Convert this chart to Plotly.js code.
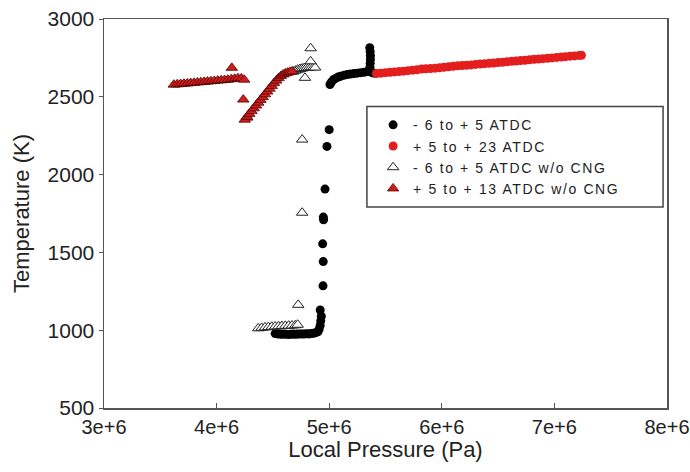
<!DOCTYPE html>
<html>
<head>
<meta charset="utf-8">
<script src="https://cdn.plot.ly/plotly-3.0.1.min.js"></script>
<style>html,body{margin:0;padding:0;background:#fff;}#chart{width:690px;height:472px;}
.legendtext{letter-spacing:1.6px;}</style>
</head>
<body>
<div id="chart"></div>
<script>
// Series names (legend)
const seriesNames = ["- 6 to + 5 ATDC", "+ 5 to + 23 ATDC", "- 6 to + 5 ATDC w/o CNG", "+ 5 to + 13 ATDC w/o CNG"];

// Black circles: -6 to +5 ATDC (pressure Pa, temperature K)
const blackP = [4.52e6,4.54e6,4.56e6,4.58e6,4.60e6,4.62e6,4.64e6,4.66e6,4.68e6,4.70e6,4.72e6,4.74e6,4.76e6,4.78e6,4.80e6,4.82e6,4.84e6,4.86e6,4.88e6,4.90e6,4.91e6,4.92e6,4.925e6,4.93e6,4.92e6,
  4.945e6,4.947e6,4.942e6,4.95e6,4.948e6,4.963e6,4.98e6,5.00e6,
  5.007e6,5.02e6,5.04e6,5.06e6,5.08e6,5.10e6,5.13e6,5.16e6,5.19e6,5.22e6,5.25e6,5.28e6,5.31e6,5.34e6,
  5.36e6,5.362e6,5.364e6,5.366e6,5.366e6,5.364e6,5.36e6,5.38e6,5.40e6];
const blackT = [978,976,975,974,975,974,973,974,975,974,975,976,975,976,977,976,978,980,984,990,1005,1030,1060,1090,1130,
  1285,1441,1555,1710,1727,1907,2181,2289,
  2579,2595,2611,2620,2627,2632,2638,2643,2646,2649,2652,2655,2658,2662,
  2665,2690,2715,2740,2765,2790,2815,2655,2652];

// Red circles: +5 to +23 ATDC
const redP = [5.42e6,5.46e6,5.50e6,5.54e6,5.58e6,5.62e6,5.66e6,5.70e6,5.74e6,5.78e6,5.82e6,5.86e6,5.90e6,5.94e6,5.98e6,
  6.02e6,6.06e6,6.10e6,6.14e6,6.18e6,6.22e6,6.26e6,6.30e6,6.34e6,6.38e6,6.42e6,6.46e6,6.50e6,6.54e6,6.58e6,
  6.62e6,6.66e6,6.70e6,6.74e6,6.78e6,6.82e6,6.86e6,6.90e6,6.94e6,6.98e6,7.02e6,7.06e6,7.10e6,7.14e6,7.18e6,7.22e6,7.24e6];
const redT = [2650,2652,2655,2657,2660,2662,2665,2668,2671,2674,2678,2680,2682,2684,2687,
  2690,2693,2696,2699,2701,2703,2705,2708,2711,2713,2715,2717,2720,2722,2725,
  2728,2730,2733,2735,2738,2741,2743,2745,2748,2750,2753,2756,2758,2761,2763,2766,2767];

// Open triangles: -6 to +5 ATDC w/o CNG
const openP = [4.37e6,4.40e6,4.43e6,4.46e6,4.49e6,4.52e6,4.55e6,4.58e6,4.61e6,4.64e6,4.67e6,4.70e6,4.72e6,
  4.725e6,4.76e6,4.76e6,
  4.785e6,4.68e6,4.70e6,4.72e6,4.74e6,4.76e6,4.78e6,4.80e6,4.82e6,4.84e6,4.86e6,4.875e6,4.835e6,4.835e6];
const openT = [1012,1015,1018,1020,1022,1024,1025,1027,1028,1029,1030,1032,1035,
  1163,1755,2225,
  2622,2662,2668,2674,2678,2682,2685,2687,2688,2690,2690,2688,2728,2812];

// Red triangles: +5 to +13 ATDC w/o CNG
const redTriP = [3.62e6,3.65e6,3.68e6,3.71e6,3.74e6,3.77e6,3.80e6,3.83e6,3.86e6,3.89e6,3.92e6,3.95e6,3.98e6,4.01e6,4.04e6,4.07e6,4.10e6,4.13e6,4.16e6,4.19e6,4.22e6,4.245e6,
  4.135e6,4.237e6,4.27e6,
  4.25e6,4.27e6,4.29e6,4.31e6,4.33e6,4.35e6,4.37e6,4.39e6,4.41e6,4.43e6,4.45e6,4.47e6,4.49e6,4.51e6,4.53e6,4.55e6,4.57e6,4.59e6,4.61e6,4.63e6,4.65e6,4.67e6];
const redTriT = [2578,2580,2582,2584,2586,2588,2590,2592,2594,2596,2598,2600,2602,2604,2606,2608,2610,2613,2616,2619,2618,2610,
  2686,2482,2366,
  2353,2372,2390,2408,2426,2444,2462,2480,2498,2516,2534,2552,2570,2588,2604,2620,2633,2643,2650,2655,2660,2663];

// Axis ticks
const xTicks = [3e6,4e6,5e6,6e6,7e6,8e6];
const yTicks = [500,1000,1500,2000,2500,3000];

const FONT = "Liberation Sans, Arial, Helvetica, sans-serif";

const traces = [
  {x: blackP, y: blackT, name: seriesNames[0], mode: "markers", type: "scatter",
   marker: {symbol: "circle", size: 9, color: "#000000", line: {width: 0}}},
  {x: redP, y: redT, name: seriesNames[1], mode: "markers", type: "scatter",
   marker: {symbol: "circle", size: 9, color: "#e41e1e", line: {width: 0}}},
  {x: openP, y: openT, name: seriesNames[2], mode: "markers", type: "scatter",
   marker: {symbol: "triangle-up", size: 10, color: "#ffffff", line: {width: 1, color: "#222222"}}},
  {x: redTriP, y: redTriT, name: seriesNames[3], mode: "markers", type: "scatter",
   marker: {symbol: "triangle-up", size: 10, color: "#d21c1c", line: {width: 0.8, color: "#4a0505"}}}
];

const layout = {
  width: 690, height: 472,
  margin: {l: 104, r: 23, t: 19, b: 64},
  paper_bgcolor: "#ffffff", plot_bgcolor: "#ffffff",
  font: {family: FONT, color: "#222222", size: 20},
  showlegend: true,
  legend: {x: 0.478, y: 0.768, xanchor: "left", yanchor: "top",
    bgcolor: "rgba(0,0,0,0)", borderwidth: 0, font: {family: FONT, size: 14, color: "#222222"},
    tracegroupgap: 0},
  shapes: [{type: "rect", xref: "paper", yref: "paper", x0: 0.467, x1: 0.993, y0: 0.517, y1: 0.775,
    line: {color: "#444444", width: 1.5}, fillcolor: "rgba(0,0,0,0)"}],
  xaxis: {
    range: [3e6, 8e6], tickvals: xTicks, exponentformat: "e", showexponent: "all",
    showgrid: false, zeroline: false, showline: true, linecolor: "#555555", linewidth: 1.5,
    mirror: true, ticks: "inside", ticklen: 5, tickcolor: "#555555", tickwidth: 1,
    tickfont: {family: FONT, size: 20, color: "#222222"}, ticklabeloverflow: "allow",
    title: {text: "Local Pressure (Pa)", font: {family: FONT, size: 22, color: "#222222"}, standoff: 5}
  },
  yaxis: {
    range: [500, 3000], tickvals: yTicks, exponentformat: "none",
    showgrid: false, zeroline: false, showline: true, linecolor: "#555555", linewidth: 1.5,
    mirror: true, ticks: "outside", ticklen: 4, tickcolor: "#555555", tickwidth: 1,
    tickfont: {family: FONT, size: 21, color: "#222222"},
    title: {text: "Temperature (K)", font: {family: FONT, size: 22, color: "#222222"}, standoff: 12}
  }
};

Plotly.newPlot("chart", traces, layout, {displayModeBar: false, staticPlot: true});
</script>
</body>
</html>
